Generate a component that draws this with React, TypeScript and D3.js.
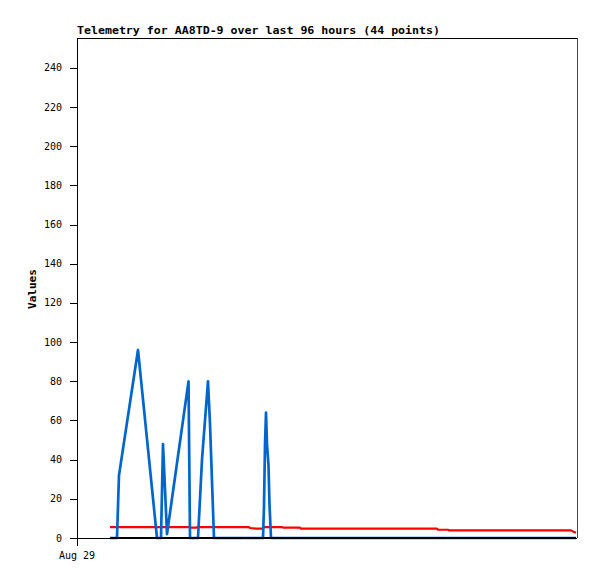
import { useMemo } from "react"
import * as d3 from "d3"

// Hours since Aug 29 00:00 for each of the 44 telemetry samples.
const HOURS = [
  6.34, 7.68, 8.06, 11.71, 15.36, 16.13, 16.51, 17.28, 21.41, 21.7, 22.85,
  23.23, 24.0, 25.15, 25.54, 26.3, 33.02, 33.22, 34.37, 35.71, 35.9, 36.1,
  36.29, 36.48, 36.77, 36.96, 37.25, 39.36, 39.55, 42.82, 43.01, 48.58,
  56.26, 63.94, 69.12, 69.31, 71.23, 71.42, 77.38, 84.1, 89.86, 94.85,
  95.23, 95.81,
]

const RED = [
  5.6, 5.6, 5.6, 5.6, 5.6, 5.6, 5.6, 5.6, 5.6, 5.3, 5.3, 5.6, 5.6, 5.6, 5.6,
  5.6, 5.6, 5.1, 4.75, 4.75, 5.6, 5.6, 5.6, 5.6, 5.6, 5.6, 5.6, 5.6, 5.3, 5.3,
  4.75, 4.75, 4.75, 4.75, 4.75, 4.2, 4.2, 3.9, 3.9, 3.9, 3.9, 3.9, 3.3, 2.7,
]

const BLUE = [
  0, 0, 32, 96, 0, 0, 48, 2, 80, 0, 0, 0, 40, 80, 58, 0, 0, 0, 0, 0, 16, 48,
  64, 48, 37, 17, 0, 0, 0, 0, 0, 0, 0, 0, 0, 0, 0, 0, 0, 0, 0, 0, 0, 0,
]

const BLACK = HOURS.map(() => 0)

const Y_TICKS = [0, 20, 40, 60, 80, 100, 120, 140, 160, 180, 200, 220, 240]
const Y_MAX = 255.3
const START = new Date(2023, 7, 29, 0, 0, 0)
const SPAN_HOURS = 96
const TITLE = "Telemetry for AA8TD-9 over last 96 hours (44 points)"

const W = 597
const H = 579
const M = { top: 38, right: 20, bottom: 41, left: 77 }
const MONO = "'DejaVu Sans Mono', 'Liberation Mono', monospace"

export default function App() {
  const x = useMemo(
    () =>
      d3
        .scaleTime()
        .domain([START, d3.timeHour.offset(START, SPAN_HOURS)])
        .range([M.left, W - M.right]),
    []
  )
  const y = useMemo(
    () => d3.scaleLinear().domain([0, Y_MAX]).range([H - M.bottom, M.top]),
    []
  )
  const dates = HOURS.map((h) => new Date(START.getTime() + h * 3600e3))

  const line = d3
    .line<number>()
    .x((_, i) => x(dates[i]))
    .y((v) => y(v))

  const fmt = d3.timeFormat("%b %d")
  const y0 = y(0)

  return (
    <svg
      width={W}
      height={H}
      style={{ position: "absolute", left: 0, top: 0, background: "#fff" }}
    >
      <text
        x={M.left}
        y={34}
        fontFamily={MONO}
        fontWeight={700}
        fontSize={11}
        textLength={363}
        lengthAdjust="spacingAndGlyphs"
        fill="#000"
      >
        {TITLE}
      </text>

      {/* frame */}
      <line x1={M.left} x2={W - M.right} y1={M.top + 0.5} y2={M.top + 0.5} stroke="#000" />
      <line x1={W - M.right + 0.5} x2={W - M.right + 0.5} y1={M.top} y2={y0} stroke="#444" />
      <line x1={M.left + 0.5} x2={M.left + 0.5} y1={M.top} y2={y0 + 8} stroke="#000" />
      <line x1={M.left} x2={W - M.right} y1={y0 + 0.5} y2={y0 + 0.5} stroke="#000" />

      {/* y ticks */}
      {Y_TICKS.map((t) => (
        <g key={t}>
          <line
            x1={M.left - 7}
            x2={M.left}
            y1={Math.round(y(t)) + 0.5}
            y2={Math.round(y(t)) + 0.5}
            stroke="#000"
          />
          <text
            x={62}
            y={y(t) + 3.5}
            textAnchor="end"
            fontFamily={MONO}
            fontSize={10}
            fill="#000"
          >
            {t}
          </text>
        </g>
      ))}

      {/* x tick */}
      <text
        x={x(START)}
        y={559}
        textAnchor="middle"
        fontFamily={MONO}
        fontSize={10}
        fill="#000"
      >
        {fmt(START)}
      </text>

      <text
        transform={`translate(36,289) rotate(-90)`}
        textAnchor="middle"
        fontFamily={MONO}
        fontWeight={700}
        fontSize={11}
        fill="#000"
      >
        Values
      </text>

      <path d={line(RED) ?? undefined} fill="none" stroke="#ff0000" strokeWidth={2.2} strokeLinejoin="round" />
      <path d={line(BLUE) ?? undefined} fill="none" stroke="#0066cc" strokeWidth={2.7} strokeLinejoin="round" />
      <path d={line(BLACK) ?? undefined} fill="none" stroke="#000" strokeWidth={2.2} />
    </svg>
  )
}
